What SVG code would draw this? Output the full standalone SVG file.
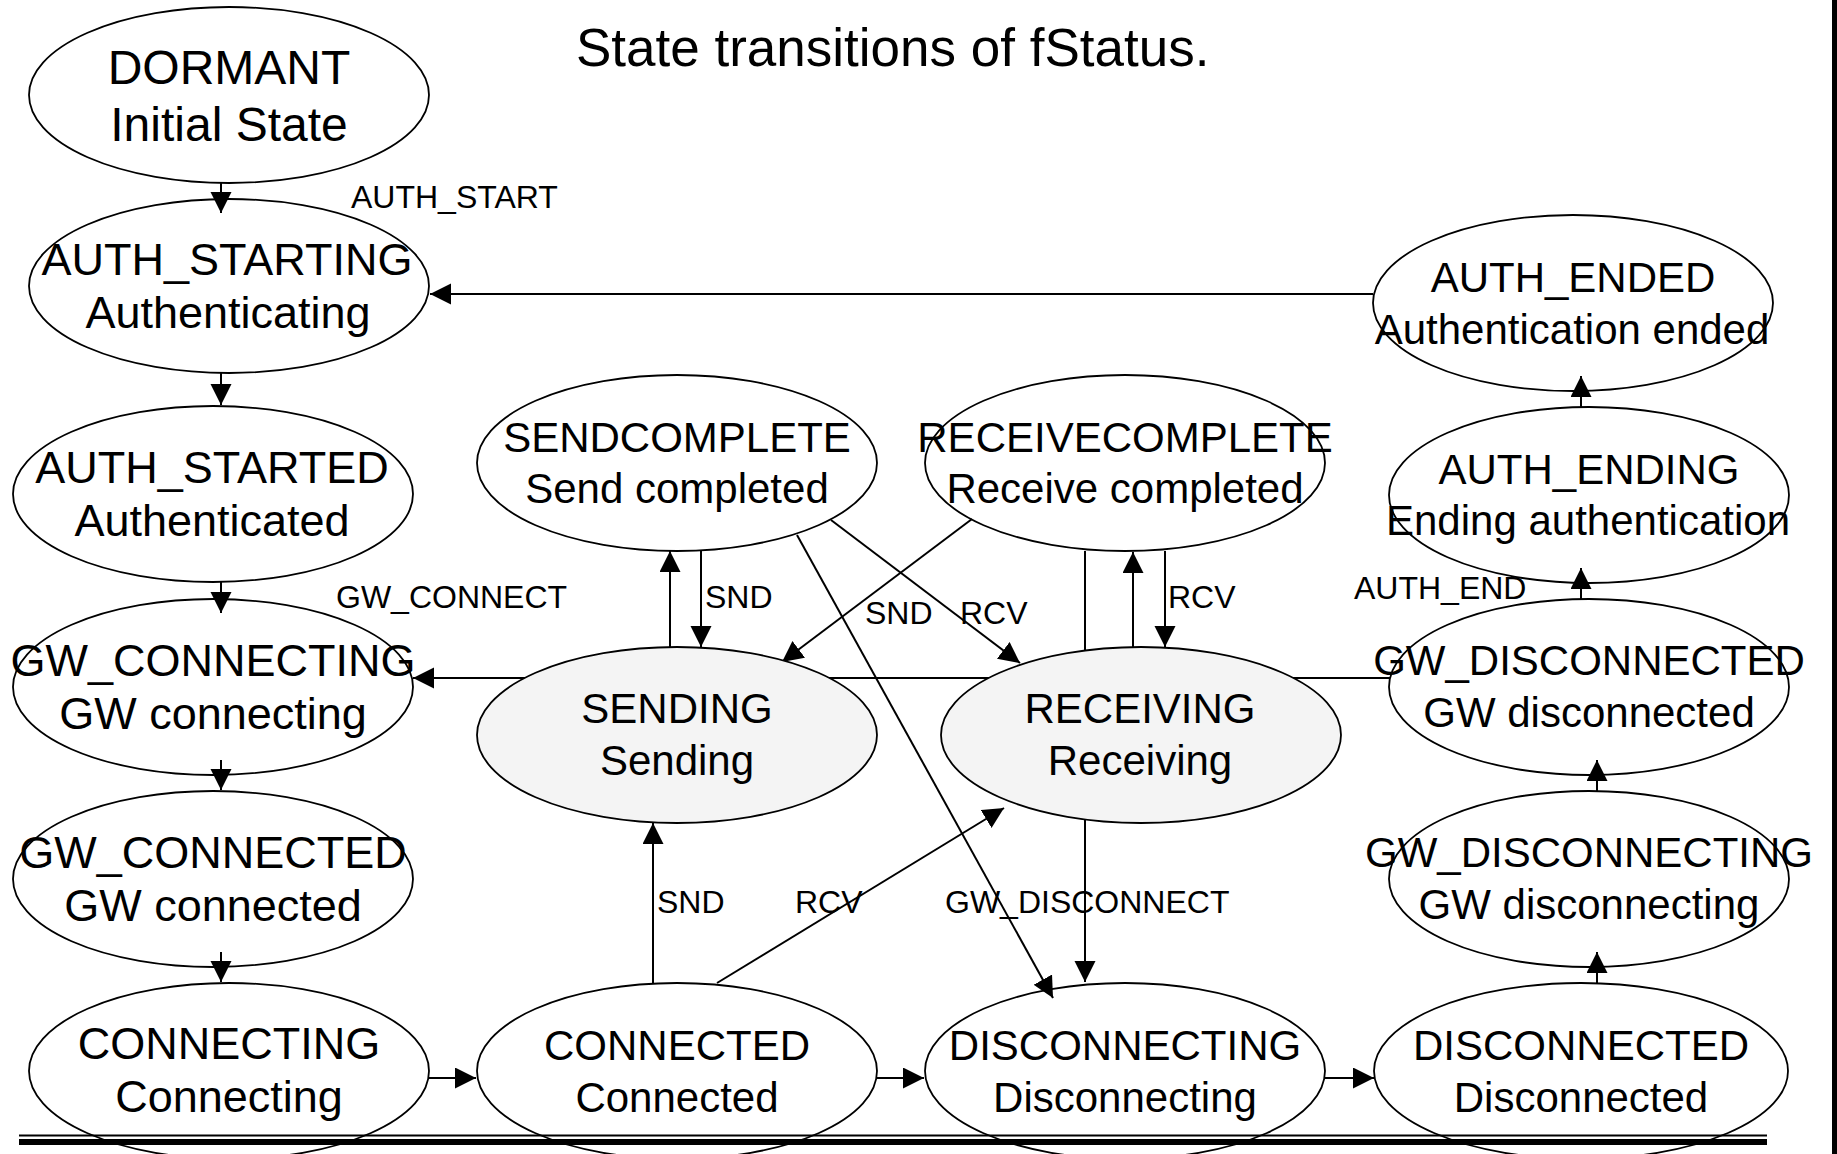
<svg xmlns="http://www.w3.org/2000/svg" width="1837" height="1154" viewBox="0 0 1837 1154">
<style>
.st{stroke:#000;stroke-width:1.8;fill:none}
.act{stroke:#000;stroke-width:1.8;fill:#f4f4f4}
.ca{stroke:#000;stroke-width:2;fill:none;marker-end:url(#arr)}
.t{font-family:"Liberation Sans",Arial,sans-serif;font-size:42px;text-anchor:middle;fill:#000}
.tl{font-family:"Liberation Sans",Arial,sans-serif;font-size:45px;text-anchor:middle;fill:#000}
.tb{font-family:"Liberation Sans",Arial,sans-serif;font-size:48px;text-anchor:middle;fill:#000}
.lb{font-family:"Liberation Sans",Arial,sans-serif;font-size:32px;fill:#000}
.title{font-family:"Liberation Sans",Arial,sans-serif;font-size:53px;fill:#000}
</style>
<defs>
<marker id="arr" markerUnits="userSpaceOnUse" markerWidth="22" markerHeight="22" refX="21" refY="10.5" orient="auto">
<path d="M0,0 L21,10.5 L0,21 Z" fill="#000"/>
</marker>
</defs>
<rect width="1837" height="1154" fill="#fff"/>
<text class="title" x="576" y="66">State transitions of fStatus.</text>

<g id="connectors">
<path class="ca" d="M221,183 V213"/>
<path class="ca" d="M221,373 V405"/>
<path class="ca" d="M221,582 V613"/>
<path class="ca" d="M221,760 V790"/>
<path class="ca" d="M221,952 V982"/>
<path class="ca" d="M429,1078 H476"/>
<path class="ca" d="M877,1078 H924"/>
<path class="ca" d="M1325,1078 H1374"/>
<path class="ca" d="M1597,983 V952"/>
<path class="ca" d="M1597,791 V760"/>
<path class="ca" d="M1581,599 V568"/>
<path class="ca" d="M1581,407 V376"/>
<path class="ca" d="M1373,294 H430"/>
<path class="ca" d="M1390,678 H413"/>
<path class="ca" d="M670,647 V551"/>
<path class="ca" d="M701,551 V647"/>
<path class="ca" d="M831,520 L1020,663"/>
<path class="ca" d="M972,519 L782,662"/>
<path class="ca" d="M1085,551 V982"/>
<path class="ca" d="M1133,647 V552"/>
<path class="ca" d="M1165,551 V647"/>
<path class="ca" d="M797,535 L1053,998"/>
<path class="ca" d="M653,983 V823"/>
<path class="ca" d="M717,983 L1004,808"/>
</g>

<g id="labels">
<text class="lb" x="351" y="208">AUTH_START</text>
<text class="lb" x="336" y="608">GW_CONNECT</text>
<text class="lb" x="705" y="608">SND</text>
<text class="lb" x="865" y="624">SND</text>
<text class="lb" x="960" y="624">RCV</text>
<text class="lb" x="1168" y="608">RCV</text>
<text class="lb" x="657" y="913">SND</text>
<text class="lb" x="795" y="913">RCV</text>
<text class="lb" x="945" y="913">GW_DISCONNECT</text>
<text class="lb" x="1354" y="599">AUTH_END</text>
</g>

<g id="dormant"><ellipse class="st" cx="229" cy="95" rx="200" ry="88"/><text class="tb" x="229" y="84">DORMANT</text><text class="tb" x="229" y="141">Initial State</text></g>
<g id="auth_starting"><ellipse class="st" cx="229" cy="286" rx="200" ry="87"/><text class="tl" x="227" y="275">AUTH_STARTING</text><text class="tl" x="228" y="328">Authenticating</text></g>
<g id="auth_started"><ellipse class="st" cx="213" cy="494" rx="200" ry="88"/><text class="tl" x="212" y="483">AUTH_STARTED</text><text class="tl" x="212" y="536">Authenticated</text></g>
<g id="gw_connecting"><ellipse class="st" cx="213" cy="687" rx="200" ry="88"/><text class="tl" x="213" y="676">GW_CONNECTING</text><text class="tl" x="213" y="729">GW connecting</text></g>
<g id="gw_connected"><ellipse class="st" cx="213" cy="879" rx="200" ry="88"/><text class="tl" x="213" y="868">GW_CONNECTED</text><text class="tl" x="213" y="921">GW connected</text></g>
<g id="connecting"><ellipse class="st" cx="229" cy="1071" rx="200" ry="88"/><text class="tl" x="229" y="1059">CONNECTING</text><text class="tl" x="229" y="1112">Connecting</text></g>

<g id="sendcomplete"><ellipse class="st" cx="677" cy="463" rx="200" ry="88"/><text class="t" x="677" y="452">SENDCOMPLETE</text><text class="t" x="677" y="503">Send completed</text></g>
<g id="receivecomplete"><ellipse class="st" cx="1125" cy="463" rx="200" ry="88"/><text class="t" x="1125" y="452">RECEIVECOMPLETE</text><text class="t" x="1125" y="503">Receive completed</text></g>
<g id="sending"><ellipse class="act" cx="677" cy="735" rx="200" ry="88"/><text class="t" x="677" y="723">SENDING</text><text class="t" x="677" y="775">Sending</text></g>
<g id="receiving"><ellipse class="act" cx="1141" cy="735" rx="200" ry="88"/><text class="t" x="1140" y="723">RECEIVING</text><text class="t" x="1140" y="775">Receiving</text></g>
<g id="connected"><ellipse class="st" cx="677" cy="1071" rx="200" ry="88"/><text class="t" x="677" y="1060">CONNECTED</text><text class="t" x="677" y="1112">Connected</text></g>
<g id="disconnecting"><ellipse class="st" cx="1125" cy="1071" rx="200" ry="88"/><text class="t" x="1125" y="1060">DISCONNECTING</text><text class="t" x="1125" y="1112">Disconnecting</text></g>

<g id="auth_ended"><ellipse class="st" cx="1573" cy="303" rx="200" ry="88"/><text class="t" x="1573" y="292">AUTH_ENDED</text><text class="t" x="1572" y="344">Authentication ended</text></g>
<g id="auth_ending"><ellipse class="st" cx="1589" cy="495" rx="200" ry="88"/><text class="t" x="1589" y="484">AUTH_ENDING</text><text class="t" x="1588" y="535">Ending authentication</text></g>
<g id="gw_disconnected"><ellipse class="st" cx="1589" cy="687" rx="200" ry="88"/><text class="t" x="1589" y="675">GW_DISCONNECTED</text><text class="t" x="1589" y="727">GW disconnected</text></g>
<g id="gw_disconnecting"><ellipse class="st" cx="1589" cy="879" rx="200" ry="88"/><text class="t" x="1589" y="867">GW_DISCONNECTING</text><text class="t" x="1589" y="919">GW disconnecting</text></g>
<g id="disconnected"><ellipse class="st" cx="1581" cy="1071" rx="207" ry="88"/><text class="t" x="1581" y="1060">DISCONNECTED</text><text class="t" x="1581" y="1112">Disconnected</text></g>

<line x1="19" y1="1135.5" x2="1767" y2="1135.5" stroke="#000" stroke-width="2"/>
<rect x="19" y="1139" width="1748" height="6" fill="#000"/>
<rect x="1832" y="0" width="5" height="1154" fill="#000"/>
</svg>
